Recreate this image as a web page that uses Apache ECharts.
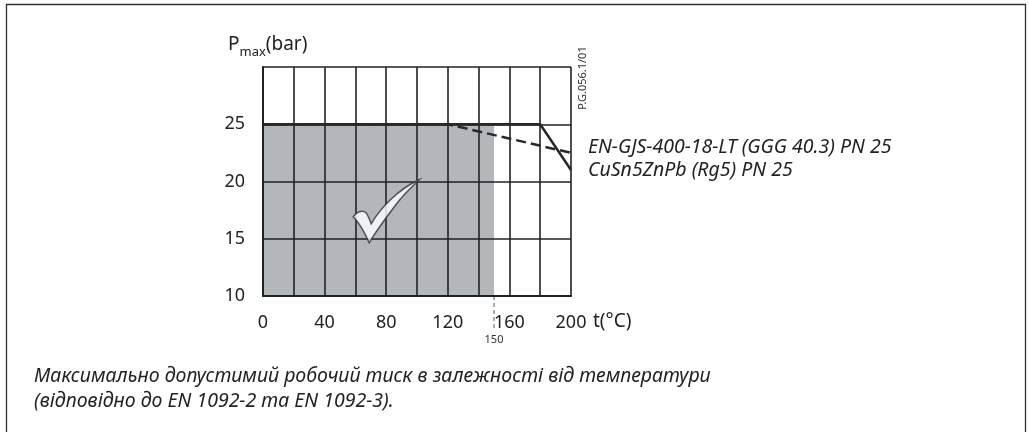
<!DOCTYPE html>
<html>
<head>
<meta charset="utf-8">
<script src="https://cdn.jsdelivr.net/npm/echarts@6/dist/echarts.min.js"></script>
<style>
  html, body { margin: 0; padding: 0; background: #fff; }
  #main-chart { width: 1029px; height: 432px; }
</style>
</head>
<body>
<div id="main-chart"></div>
<script>
// 数据
var tempTicks = [0, 40, 80, 120, 160, 200];
var pressureTicks = [10, 15, 20, 25];
var gggLine = [[0, 25], [120, 25], [200, 22.5]];
var rg5Line = [[0, 25], [180, 25], [200, 21]];
var allowedTop = [[0, 25], [150, 25]];   // 灰色区域：0~150°C，10~25 bar
var tempLimit = 150;
var checkAt = [80, 17.4];
var seriesNames = ['EN-GJS-400-18-LT (GGG 40.3) PN 25', 'CuSn5ZnPb (Rg5) PN 25'];

var lineColor = '#25292a';
var gridColor = '#1f2223';
var textColor = '#222';
var checkPath = 'path://M0,37 C3,32 9,30 13,33 C15,36 17,41 18,44 C28,27 46,9 66,0 C60,6 52,13 45,22 C35,35 25,48 16,63 C12,54 7,44 0,37 Z';

var myChart = echarts.init(document.getElementById('main-chart'));

var option = {
    animation: false,
    grid: { left: 263, right: 458, top: 67, bottom: 136 },
    xAxis: {
        type: 'value',
        min: 0, max: 200, interval: 20,
        z: 3,
        axisLine: { lineStyle: { color: gridColor, width: 2 } },
        axisTick: { show: false },
        axisLabel: {
            margin: 18,
            fontFamily: 'Noto Sans', fontSize: 18, color: textColor,
            formatter: function (v) { return tempTicks.indexOf(v) >= 0 ? v : ''; }
        },
        splitLine: { show: true, lineStyle: { color: gridColor, width: 1.6 } }
    },
    yAxis: {
        type: 'value',
        min: 10, max: 30, interval: 5,
        z: 3,
        axisLine: { show: true, lineStyle: { color: gridColor, width: 2 } },
        axisTick: { show: false },
        axisLabel: {
            margin: 18,
            fontFamily: 'Noto Sans', fontSize: 18, color: textColor,
            formatter: function (v) { return pressureTicks.indexOf(v) >= 0 ? v : ''; }
        },
        splitLine: { show: true, lineStyle: { color: gridColor, width: 1.6 } }
    },
    series: [
        {
            // 允许区域（灰色）— 半透明，网格线还能透出来
            type: 'line',
            data: allowedTop,
            z: 1,
            symbol: 'none',
            silent: true,
            lineStyle: { width: 0 },
            areaStyle: { origin: 'start', color: 'rgb(2,18,28)', opacity: 0.3 }
        },
        {
            name: seriesNames[0],
            type: 'line',
            data: gggLine,
            z: 5,
            symbol: 'none',
            lineStyle: { color: lineColor, width: 2.5, type: [10, 5] }
        },
        {
            name: seriesNames[1],
            type: 'line',
            data: rg5Line,
            z: 6,
            symbol: 'none',
            lineStyle: { color: lineColor, width: 2.5 }
        },
        {
            type: 'scatter',
            data: [checkAt],
            z: 7,
            symbol: checkPath,
            symbolSize: [66, 63],
            itemStyle: { color: '#fff', borderColor: '#333', borderWidth: 1.5 }
        }
    ]
};

myChart.setOption(option);

//----------------------------------------------
// 150 标记、轴名、说明文字
var p150 = myChart.convertToPixel({ gridIndex: 0 }, [tempLimit, 10]);
var pEnd = myChart.convertToPixel({ gridIndex: 0 }, [200, 10]);
var pTop = myChart.convertToPixel({ gridIndex: 0 }, [200, 30]);

myChart.setOption({
    graphic: [
        {
            type: 'rect',
            shape: { x: 6.5, y: 4.5, width: 1019, height: 460 },
            style: { fill: 'none', stroke: '#333', lineWidth: 1.3 },
            silent: true
        },
        {
            type: 'line',
            shape: { x1: p150[0], y1: p150[1], x2: p150[0], y2: p150[1] + 35 },
            style: { stroke: '#555', lineWidth: 1, lineDash: [4, 3] }
        },
        {
            type: 'text',
            x: p150[0], y: p150[1] + 44,
            style: { text: String(tempLimit), fontFamily: 'Noto Sans', fontSize: 11, fill: '#333', align: 'center', verticalAlign: 'middle' }
        },
        {
            type: 'text',
            x: pEnd[0] + 22, y: pEnd[1] + 26,
            style: { text: 't(°C)', fontFamily: 'Noto Sans', fontSize: 19, fill: textColor, align: 'left', verticalAlign: 'middle' }
        },
        {
            // Pmax(bar)
            type: 'text',
            x: 228, y: 59,
            style: {
                text: '{p|P}{s|max}{p|(bar)}',
                align: 'left', verticalAlign: 'bottom',
                rich: {
                    p: { fontFamily: 'Noto Sans', fontSize: 19, fill: textColor, padding: [0, 0, 5, 0], verticalAlign: 'bottom' },
                    s: { fontFamily: 'Noto Sans', fontSize: 13, fill: textColor, verticalAlign: 'bottom' }
                }
            }
        },
        {
            type: 'text',
            x: pTop[0] + 12, y: 78,
            rotation: Math.PI / 2,
            style: { text: 'P.G.056.1/01', fontFamily: 'Noto Sans', fontSize: 11, fill: '#333', align: 'center', verticalAlign: 'middle' }
        },
        {
            type: 'text',
            x: 588, y: 158.5,
            style: {
                text: seriesNames.join('\n'),
                fontFamily: 'Noto Sans', fontStyle: 'italic', fontSize: 19.5, lineHeight: 23,
                fill: textColor, align: 'left', verticalAlign: 'middle'
            }
        },
        {
            type: 'text',
            x: 34, y: 389,
            style: {
                text: 'Максимально допустимий робочий тиск в залежності від температури\n(відповідно до EN 1092-2 та EN 1092-3).',
                fontFamily: 'Noto Sans', fontStyle: 'italic', fontSize: 19.5, lineHeight: 25,
                fill: textColor, align: 'left', verticalAlign: 'middle'
            }
        }
    ]
});
</script>
</body>
</html>
